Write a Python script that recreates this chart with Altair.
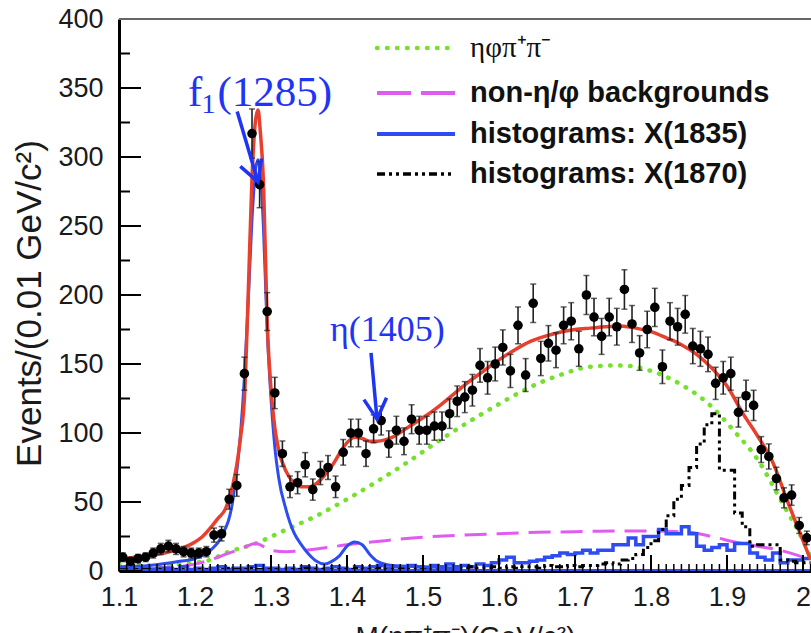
import altair as alt
import pandas as pd

# ---------------- values ----------------
X_MAJOR = [1.1, 1.2, 1.3, 1.4, 1.5, 1.6, 1.7, 1.8, 1.9, 2.0]
X_MINOR = [round(1.10 + 0.01 * i, 2) for i in range(92)]
Y_MAJOR = [0, 50, 100, 150, 200, 250, 300, 350, 400]
Y_MINOR = [25, 75, 125, 175, 225, 275, 325, 375]

# data points (bin centres, 0.01 GeV bins) and counts
BIN_CENTRES = [round(1.105 + 0.01 * i, 3) for i in range(91)]
COUNTS = [10, 7, 9, 10, 13, 16, 18, 16, 14, 13,
          13, 14, 26, 27, 52, 62, 143, 317, 280, 188,
          129, 85, 61, 64, 77, 59, 71, 75, 61, 86,
          100, 100, 85, 103, 109, 92, 102, 94, 110, 102,
          102, 105, 105, 114, 123, 126, 131, 149, 140, 150,
          162, 145, 178, 142, 194, 154, 165, 160, 178, 181,
          161, 200, 184, 170, 184, 177, 204, 179, 158, 175,
          191, 148, 181, 177, 186, 163, 161, 157, 136, 140,
          143, 115, 127, 120, 88, 83, 67, 53, 55, 33,
          24]

# total fit (red)
FIT_M = [1.10, 1.12, 1.14, 1.16, 1.18, 1.20, 1.21, 1.22, 1.23, 1.24,
         1.25, 1.255, 1.26, 1.265, 1.27, 1.275, 1.28, 1.283, 1.286, 1.29,
         1.295, 1.30, 1.305, 1.31, 1.32, 1.33, 1.34, 1.35, 1.36, 1.37,
         1.38, 1.39, 1.40, 1.41, 1.42, 1.43, 1.44, 1.45, 1.46, 1.48,
         1.50, 1.52, 1.54, 1.56, 1.58, 1.60, 1.62, 1.64, 1.66, 1.68,
         1.70, 1.72, 1.74, 1.76, 1.78, 1.80, 1.82, 1.84, 1.86, 1.88,
         1.90, 1.92, 1.94, 1.96, 1.98, 2.00, 2.01]
FIT_V = [8, 10, 11, 13, 16, 21, 25, 31, 38, 45,
         63, 77, 97, 125, 200, 285, 328, 334, 318, 283,
         180, 132, 104, 88, 72, 64, 61, 61, 63.5, 69,
         76, 85, 93, 97, 96, 94, 94, 95, 97, 104,
         111, 119, 128, 137, 145, 153, 160, 166, 170, 173,
         175, 176, 177, 177.5, 176, 173.5, 169, 164, 157, 147,
         134, 115, 98, 79, 50, 22, 8]

# eta phi pi+ pi- (green dotted)
PHSP_M = [1.10, 1.15, 1.20, 1.22, 1.24, 1.28, 1.32, 1.36, 1.40, 1.44, 1.48, 1.52, 1.56,
          1.60, 1.64, 1.68, 1.72, 1.76, 1.80, 1.84, 1.88, 1.91, 1.94, 1.97, 2.00, 2.01]
PHSP_V = [5, 4, 6, 8, 13, 20, 30, 40, 52, 65, 79, 94, 108,
          121, 133, 142, 148, 149, 145, 135, 119, 101, 81, 52, 22, 10]

# non-eta/phi backgrounds (magenta dashed)
BKG_M = [1.10, 1.15, 1.20, 1.22, 1.24, 1.26, 1.28, 1.30, 1.32, 1.36, 1.40, 1.45, 1.50,
         1.55, 1.60, 1.65, 1.70, 1.75, 1.80, 1.85, 1.88, 1.91, 1.94, 1.97, 2.00, 2.01]
BKG_V = [1, 2, 5, 8, 12, 16, 20, 15, 14, 16, 19, 22, 24.5,
         26, 27, 28, 28.5, 29, 29, 28, 25, 21, 18, 15, 10, 8]

# f1(1285) + eta(1405) components (blue solid)
RES_M = [1.10, 1.14, 1.18, 1.20, 1.22, 1.235, 1.25, 1.26, 1.265, 1.27,
         1.275, 1.28, 1.283, 1.286, 1.29, 1.295, 1.30, 1.305, 1.31, 1.32,
         1.33, 1.34, 1.35, 1.36, 1.37, 1.38, 1.39, 1.40, 1.41, 1.42,
         1.43, 1.44, 1.46, 1.50, 1.55]
RES_V = [3, 4, 7, 9, 15, 25, 52, 100, 140, 195,
         255, 292, 298, 288, 250, 175, 125, 90, 68, 44,
         28, 19, 12, 7, 5, 7, 11, 18, 21, 19,
         12, 7, 4, 3, 2]

# histograms, bins of 0.01 starting at 1.10
H1835 = [1, 2, 1, 2, 1, 2, 2, 1, 3, 1,
         2, 1, 2, 3, 1, 2, 2, 3, 4, 2,
         2, 1, 2, 1, 3, 2, 1, 2, 3, 2,
         1, 3, 2, 3, 4, 2, 3, 2, 4, 3,
         2, 4, 3, 5, 3, 4, 3, 5, 4, 6,
         8, 10, 6, 6, 7, 8, 10, 11, 13, 12,
         13, 15, 13, 15, 15, 19, 19, 24, 19, 25,
         25, 30, 27, 27, 32, 27, 18, 15, 17, 19,
         15, 20, 20, 13, 10, 8, 13, 6, 8, 8,
         9]
H1870 = [1, 0, 1, 1, 0, 1, 0, 1, 1, 0,
         1, 1, 0, 1, 2, 1, 1, 2, 1, 1,
         1, 0, 1, 1, 2, 1, 1, 0, 1, 1,
         1, 2, 1, 1, 2, 1, 1, 2, 1, 2,
         1, 2, 2, 1, 2, 2, 3, 2, 2, 3,
         2, 3, 2, 3, 3, 2, 4, 3, 3, 4,
         3, 4, 4, 5, 6, 5, 8, 9, 12, 17,
         22, 30, 40, 52, 62, 75, 92, 106, 114, 73,
         73, 42, 32, 18, 19, 19, 19, 8, 7, 6,
         6]
EDGES = [round(1.10 + 0.01 * i, 2) for i in range(92)]

# annotations
ANN_TEXT = ["(1285)", "η(1405)"]
ANN_M = [1.2295, 1.3776]
ANN_V = [337, 167]
ARROW_M1 = [1.2555, 1.4316]
ARROW_V1 = [333, 158]
ARROW_M2 = [1.2829, 1.4395]
ARROW_V2 = [282, 110]

LEGEND_LABELS = ["ηφπ⁺π⁻", "non-η/φ backgrounds", "histograms: X(1835)", "histograms: X(1870)"]

# ---------------- styling ----------------
W, H = 692, 552
RED = "#E8402F"
BLUE = "#2D4CF2"
GREEN = "#76E12C"
MAGENTA = "#E05CF0"
ABLUE = "#1F35F5"
SANS = "Liberation Sans"
SERIF = "Liberation Serif"

xs = alt.Scale(domain=[1.1, 2.0105], nice=False, zero=False)
ys = alt.Scale(domain=[0, 400], nice=False, zero=False)

x_axis = alt.Axis(values=X_MAJOR, format=".1~f", ticks=False, grid=False, labelFlush=False,
                  labelFont=SANS, labelFontSize=27, labelColor="#1a1a1a",
                  labelPadding=13, domainColor="black", domainWidth=3,
                  title="M(ηπ⁺π⁻)(GeV/c²)", titleFont=SANS, titleFontSize=28,
                  titleFontWeight="normal", titleColor="#1a1a1a",
                  titleX=346, titleY=52, titleBaseline="top", titleAlign="center")
y_axis = alt.Axis(values=Y_MAJOR, ticks=False, grid=False, labelFlush=False,
                  labelFont=SANS, labelFontSize=27, labelColor="#1a1a1a",
                  labelPadding=16, domainColor="black", domainWidth=3,
                  title="Events/(0.01 GeV/c²)", titleFont=SANS, titleFontSize=35,
                  titleFontWeight="normal", titleColor="#1a1a1a",
                  titleAngle=270, titleX=-90, titleY=284,
                  titleAlign="center", titleBaseline="middle")


def X(f, **kw):
    return alt.X(f, type="quantitative", scale=xs, axis=x_axis, **kw)


def Y(f, **kw):
    return alt.Y(f, type="quantitative", scale=ys, axis=y_axis, **kw)


pts = pd.DataFrame({"m": BIN_CENTRES, "c": COUNTS})
base_pts = alt.Chart(pts).transform_calculate(
    lo="datum.c - sqrt(datum.c)", hi="datum.c + sqrt(datum.c)")

err = base_pts.mark_rule(color="#222", strokeWidth=1.6, clip=True).encode(
    x=X("m"), y=Y("lo"), y2="hi:Q")
cap_lo = base_pts.mark_tick(color="#222", orient="horizontal", size=6, thickness=1.5, clip=True).encode(
    x=X("m"), y=Y("lo"))
cap_hi = base_pts.mark_tick(color="#222", orient="horizontal", size=6, thickness=1.5, clip=True).encode(
    x=X("m"), y=Y("hi"))
dots = base_pts.mark_circle(color="black", size=92, opacity=1, clip=True).encode(x=X("m"), y=Y("c"))


def curve(mv, vv, color, width, dash=None, interp="monotone", cap="butt"):
    df = pd.DataFrame({"m": mv, "v": vv})
    kw = dict(color=color, strokeWidth=width, interpolate=interp, clip=True, strokeCap=cap)
    if dash:
        kw["strokeDash"] = dash
    return alt.Chart(df).mark_line(**kw).encode(x=X("m"), y=Y("v"), order="m:Q")


phsp = curve(PHSP_M, PHSP_V, GREEN, 4.5, [0.5, 9.5], cap="round")
bkg = curve(BKG_M, BKG_V, MAGENTA, 3, [22, 10])
h35 = curve(EDGES, H1835 + [H1835[-1]], BLUE, 3.5, None, "step-after")
h70 = curve(EDGES, H1870 + [H1870[-1]], "black", 3, [8, 4, 3, 4, 3, 4], "step-after")
res = curve(RES_M, RES_V, BLUE, 3)
fit = curve(FIT_M, FIT_V, RED, 3.5)

# inside ticks
one = pd.DataFrame({"k": [0]})
ytk_major = alt.Chart(pd.DataFrame({"v": Y_MAJOR})).mark_rule(color="black", strokeWidth=2).encode(
    y=Y("v"), x=alt.value(0), x2=alt.value(22))
ytk_minor = alt.Chart(pd.DataFrame({"v": Y_MINOR})).mark_rule(color="black", strokeWidth=2).encode(
    y=Y("v"), x=alt.value(0), x2=alt.value(11))
xtk_major = alt.Chart(pd.DataFrame({"m": X_MAJOR})).mark_rule(color="black", strokeWidth=2).encode(
    x=X("m"), y=alt.value(H), y2=alt.value(H - 16))
xtk_minor = alt.Chart(pd.DataFrame({"m": X_MINOR})).mark_rule(color="black", strokeWidth=1.5, clip=True).encode(
    x=X("m"), y=alt.value(H), y2=alt.value(H - 7))
top_line = alt.Chart(one).mark_rule(color="#666", strokeWidth=2).encode(
    x=alt.value(0), x2=alt.value(W), y=alt.value(0))
base_line = alt.Chart(one).mark_rule(color=BLUE, strokeWidth=2).encode(
    x=alt.value(0), x2=alt.value(W), y=alt.value(H - 1))

# annotations
ann = pd.DataFrame({"t": ANN_TEXT, "m": ANN_M, "v": ANN_V})
f_txt = alt.Chart(ann.iloc[[0]]).mark_text(text="f", font=SERIF, fontSize=43, color=ABLUE,
                                           align="right", baseline="alphabetic", dx=-15).encode(
    x=X("m"), y=Y("v"))
f_sub = alt.Chart(ann.iloc[[0]]).mark_text(text="1", font=SERIF, fontSize=28, color=ABLUE,
                                           align="right", baseline="alphabetic", dx=-2, dy=7).encode(
    x=X("m"), y=Y("v"))
f_rest = alt.Chart(ann.iloc[[0]]).mark_text(font=SERIF, fontSize=43, color=ABLUE,
                                            align="left", baseline="alphabetic").encode(
    x=X("m"), y=Y("v"), text="t:N")
eta_txt = alt.Chart(ann.iloc[[1]]).mark_text(font=SERIF, fontSize=36, color=ABLUE,
                                             align="left", baseline="alphabetic").encode(
    x=X("m"), y=Y("v"), text="t:N")
arr = pd.DataFrame({"m1": ARROW_M1, "v1": ARROW_V1, "m2": ARROW_M2, "v2": ARROW_V2,
                    "a": [340, 355]})
shaft = alt.Chart(arr).mark_rule(color=ABLUE, strokeWidth=3.5).encode(
    x=X("m1"), y=Y("v1"), x2="m2:Q", y2="v2:Q")
head = alt.Chart(arr).mark_point(shape="M -0.55 -1 L 0 0 L 0.55 -1", size=1700, filled=False,
                                 color=ABLUE, strokeWidth=3.5, opacity=1).encode(
    x=X("m2"), y=Y("v2"), angle=alt.Angle("a:Q", scale=None))

# legend
LX1, LX2, TX = 258, 336, 351
ROWS = [29, 74, 115, 155]
leg = []
styles = [dict(color=GREEN, strokeWidth=4.5, strokeDash=[0.5, 9.5], strokeCap="round"),
          dict(color=MAGENTA, strokeWidth=4, strokeDash=[34, 10]),
          dict(color=BLUE, strokeWidth=4),
          dict(color="black", strokeWidth=3.5, strokeDash=[8, 4, 3, 4, 3, 4])]
for i, (lab, st) in enumerate(zip(LEGEND_LABELS, styles)):
    leg.append(alt.Chart(one).mark_rule(**st).encode(
        x=alt.value(LX1), x2=alt.value(LX2), y=alt.value(ROWS[i])))
    if i == 0:
        leg.append(alt.Chart(one).mark_text(text=lab, font=SERIF, fontSize=29, color="#111",
                                            align="left", baseline="middle").encode(
            x=alt.value(TX), y=alt.value(ROWS[i])))
    else:
        leg.append(alt.Chart(one).mark_text(text=lab, font=SANS, fontSize=29, fontWeight="bold",
                                            color="#111", align="left", baseline="middle").encode(
            x=alt.value(TX), y=alt.value(ROWS[i])))

chart = alt.layer(
    phsp, bkg, h35, h70, res, fit, base_line,
    err, cap_lo, cap_hi, dots,
    ytk_major, ytk_minor, xtk_major, xtk_minor, top_line,
    shaft, head, f_txt, f_sub, f_rest, eta_txt, *leg
).properties(
    width=W, height=H,
    autosize=alt.AutoSizeParams(type="none"),
    padding={"left": 119, "top": 19, "right": 0, "bottom": 62},
    background="white",
).configure_view(stroke=None)

chart.save("out.html", embed_options={"renderer": "svg", "actions": False})
